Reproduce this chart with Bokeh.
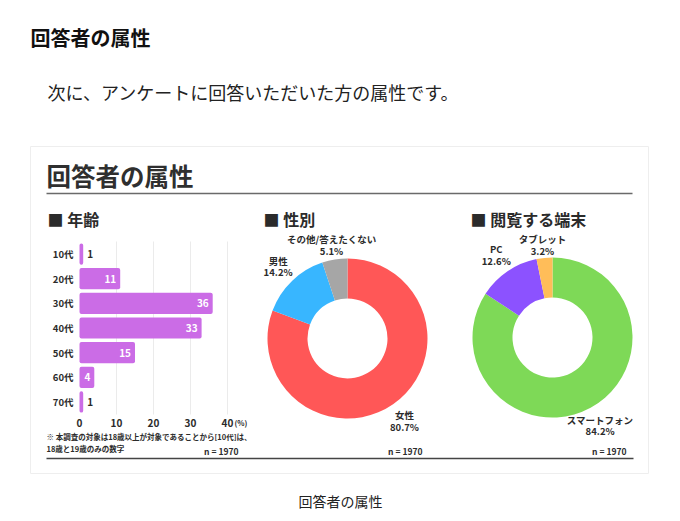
import math

from bokeh.core.properties import value
from bokeh.embed import file_html
from bokeh.models import ColumnDataSource, LinearScale, Range1d
from bokeh.plotting import figure
from bokeh.resources import INLINE

# ---- survey data -------------------------------------------------------
age_groups = ["10代", "20代", "30代", "40代", "50代", "60代", "70代"]
age_pct = [1, 11, 36, 33, 15, 4, 1]
age_ticks = [0, 10, 20, 30, 40]

gender_labels = ["女性", "男性", "その他/答えたくない"]
gender_pct = [80.7, 14.2, 5.1]
gender_colors = ["#ff5757", "#38b6ff", "#a6a6a6"]

device_labels = ["スマートフォン", "PC", "タブレット"]
device_pct = [84.2, 12.6, 3.2]
device_colors = ["#7ed957", "#8c52ff", "#ffbd59"]

sample_n = 1970

# ---- canvas ------------------------------------------------------------
W, H = 680, 521
JP = value("Noto Sans CJK JP")
INK = "#2b2b2b"


def Y(v):
    """Page coordinates are measured from the top edge."""
    return H - v


p = figure(width=W, height=H, x_range=Range1d(0, W), y_range=Range1d(0, H),
           output_backend="svg", toolbar_location=None, min_border=0,
           x_axis_location=None, y_axis_location=None)
p.grid.visible = False
p.outline_line_color = None
p.background_fill_color = "white"
p.border_fill_color = "white"


def label(x, y, txt, size, color=INK, bold=True, align="left", baseline="middle"):
    p.text(x=[x], y=[Y(y)], text=[txt], text_font=JP,
           text_font_size=f"{size}px", text_font_style="bold" if bold else "normal",
           text_color=color, text_align=align, text_baseline=baseline)


# page heading and lead text
label(30, 37, "回答者の属性", 20, color="#111111")
label(47, 91, "次に、アンケートに回答いただいた方の属性です。", 18, color="#222222", bold=False)

# infographic card
p.quad(left=30, right=648, top=Y(146), bottom=Y(473), fill_color="white",
       line_color="#eeeeee", line_width=1)
label(46, 175, "回答者の属性", 24.5, color="#2f2f2f")
p.segment(x0=46, x1=632, y0=Y(193), y1=Y(193), line_color="#6a6a6a", line_width=1.6)

label(47, 218, "■ 年齢", 16)
label(263, 218, "■ 性別", 16)
label(470, 218, "■ 閲覧する端末", 16)

# ---- age bar chart -----------------------------------------------------
X0, X1 = 79, 227
axis_sp = p.subplot(x_source=Range1d(0, 40), y_source=Range1d(0, H),
                    x_scale=LinearScale(), y_scale=LinearScale(),
                    x_target=Range1d(X0, X1), y_target=Range1d(0, H))
axis_sp.segment(x0=age_ticks[1:], x1=age_ticks[1:], y0=Y(241), y1=Y(414),
                line_color="#ebebeb", line_width=1)
axis_sp.text(x=age_ticks, y=[Y(422)] * len(age_ticks), text=[str(t) for t in age_ticks],
             text_font=JP, text_font_size="10px", text_font_style="bold",
             text_color=INK, text_align="center", text_baseline="middle")
axis_sp.text(x=[age_ticks[-1]], y=[Y(422)], text=["(%)"], x_offset=7,
             text_font=JP, text_font_size="7.5px", text_font_style="bold",
             text_color=INK, text_align="left", text_baseline="middle")

# rows are laid out top to bottom, one unit per age group
n_rows = len(age_groups)
bar_sp = p.subplot(x_source=Range1d(0, 40), y_source=Range1d(0, n_rows),
                   x_scale=LinearScale(), y_scale=LinearScale(),
                   x_target=Range1d(X0, X1), y_target=Range1d(Y(241.2), Y(413.8)))

inside = [v >= 3 for v in age_pct]
bar_src = ColumnDataSource(dict(
    group=age_groups, pos=[i + 0.5 for i in range(n_rows)],
    pct=age_pct, txt=[str(v) for v in age_pct],
    zero=[0] * n_rows,
    tcolor=["white" if i else INK for i in inside],
    talign=["right" if i else "left" for i in inside],
    toff=[-4 if i else 4 for i in inside],
))
bars = bar_sp.hbar(y="pos", left="zero", right="pct", height=0.86, source=bar_src,
                   fill_color="#cb6ce6", line_color=None)
bars.glyph.border_radius = 2
bar_sp.text(x="pct", y="pos", text="txt", x_offset="toff", source=bar_src,
            text_font=JP, text_font_size="10px", text_font_style="bold",
            text_color="tcolor", text_align="talign", text_baseline="middle")
bar_sp.text(x="zero", y="pos", text="group", x_offset=-6, source=bar_src,
            text_font=JP, text_font_size="9.5px", text_font_style="bold",
            text_color=INK, text_align="right", text_baseline="middle")

label(46, 436, "※ 本調査の対象は18歳以上が対象であることから[10代]は、", 7.5)
label(46, 448, "18歳と19歳のみの数字", 7.5)


# ---- donut charts ------------------------------------------------------
def donut(cx, cy, names, pcts, colors, r_out=80, r_in=40, r_lab=100, top_limit=244):
    starts, ends, lx, ly_name, ly_pct, pct_txt = [], [], [], [], [], []
    cum = 0.0
    for v in pcts:
        a0 = math.pi / 2 - 2 * math.pi * cum / 100
        a1 = math.pi / 2 - 2 * math.pi * (cum + v) / 100
        mid = 2 * math.pi * (cum + v / 2) / 100
        starts.append(a0)
        ends.append(a1)
        # label block centre, kept clear of the section heading
        bx = cx + r_lab * math.sin(mid)
        by = max(cy - r_lab * math.cos(mid), top_limit)
        lx.append(bx)
        ly_name.append(Y(by - 5.5))
        ly_pct.append(Y(by + 6))
        pct_txt.append(f"{v:.1f}%")
        cum += v
    src = ColumnDataSource(dict(x=[cx] * len(pcts), y=[Y(cy)] * len(pcts),
                                start=starts, end=ends, color=colors, name=names,
                                lx=lx, ly_name=ly_name, ly_pct=ly_pct, pct=pct_txt))
    p.annular_wedge(x="x", y="y", inner_radius=r_in, outer_radius=r_out,
                    start_angle="start", end_angle="end", direction="clock",
                    fill_color="color", line_color=None, source=src)
    for col, ycol in (("name", "ly_name"), ("pct", "ly_pct")):
        p.text(x="lx", y=ycol, text=col, source=src,
               text_font=JP, text_font_size="9.5px", text_font_style="bold",
               text_color=INK, text_align="center", text_baseline="middle")


donut(347, 338, gender_labels, gender_pct, gender_colors)
donut(552, 337, device_labels, device_pct, device_colors)

# sample sizes and bottom rule
for xr in (238, 422, 626):
    label(xr, 450, f"n = {sample_n}", 8.5, align="right")
p.segment(x0=46, x1=633, y0=Y(458), y1=Y(458), line_color="#444444", line_width=1.6)

# figure caption below the card
label(340, 500, "回答者の属性", 14, color="#222222", bold=False, align="center")

open("out.html", "w").write(file_html(p, INLINE))
